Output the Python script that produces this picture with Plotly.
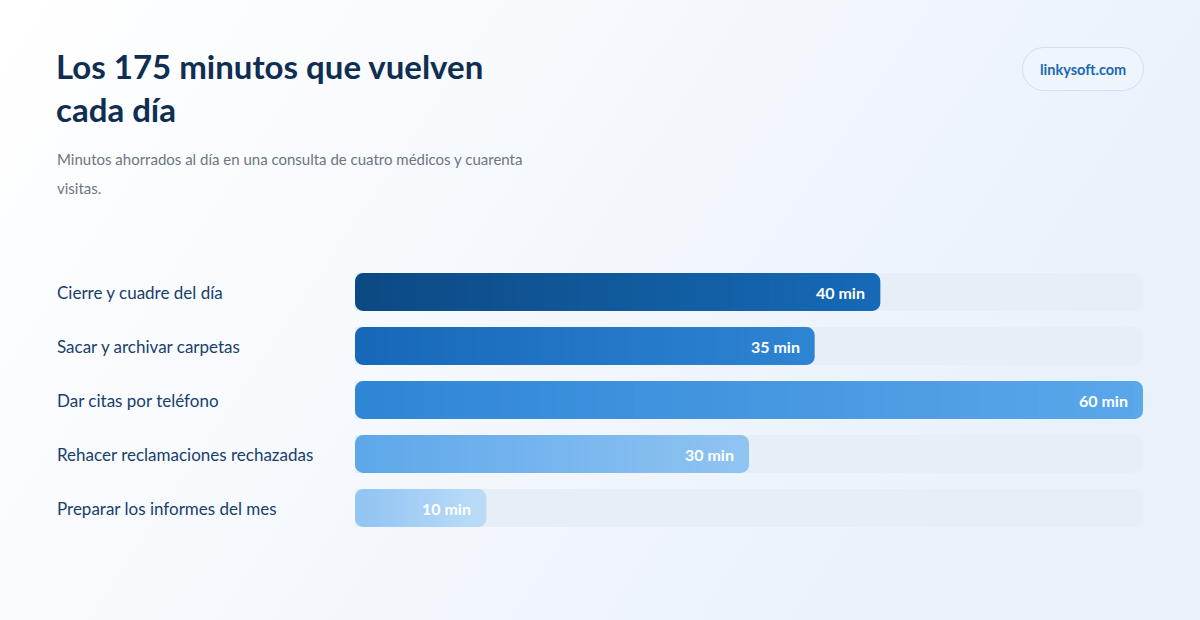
import base64
import plotly.graph_objects as go

# --- data
tasks = [
    "Cierre y cuadre del día",
    "Sacar y archivar carpetas",
    "Dar citas por teléfono",
    "Rehacer reclamaciones rechazadas",
    "Preparar los informes del mes",
]
minutes = [40, 35, 60, 30, 10]
value_labels = ["40 min", "35 min", "60 min", "30 min", "10 min"]
max_minutes = 60

# gradient colours per bar (left -> right)
grad_start = ["#0c4a83", "#1768b8", "#2f86d6", "#5ea8ea", "#93c5f3"]
grad_end = ["#1669b6", "#2d84d2", "#5aa7ea", "#8fc3f2", "#b9dbf8"]

FONT = "Lato"
W, H = 1200, 620
L, R, T, B = 355, 57, 265, 85
PW, PH = W - L - R, H - T - B


def xp(px):
    return (px - L) / PW


def yp(py):
    return (H - B - py) / PH


def hex2rgb(h):
    h = h.lstrip("#")
    return tuple(int(h[i:i + 2], 16) for i in (0, 2, 4))


def mix(c1, c2, t):
    a, b = hex2rgb(c1), hex2rgb(c2)
    return "rgb(%d,%d,%d)" % tuple(round(a[i] + (b[i] - a[i]) * t) for i in range(3))


fig = go.Figure()

# track
fig.add_trace(go.Bar(
    y=tasks, x=[max_minutes] * len(tasks), orientation="h",
    marker=dict(color="#e6eef8", cornerradius=8, line=dict(width=0)),
    hoverinfo="skip", showlegend=False,
))

# gradient bars: rounded end caps underneath, thin flat segments on top
cap = 0.8
nseg = 40
fig.add_trace(go.Bar(  # left rounded cap
    y=tasks, base=[3 * cap] * len(tasks), x=[-3 * cap] * len(tasks), orientation="h",
    marker=dict(color=grad_start, cornerradius=8, line=dict(width=0)),
    hoverinfo="skip", showlegend=False,
))
fig.add_trace(go.Bar(  # right rounded cap
    y=tasks, base=[v - 3 * cap for v in minutes], x=[3 * cap] * len(tasks), orientation="h",
    marker=dict(color=grad_end, cornerradius=8, line=dict(width=0)),
    hoverinfo="skip", showlegend=False,
))
for k in range(nseg):
    t = (k + 0.5) / nseg
    widths = [(v - 2 * cap) / nseg for v in minutes]
    fig.add_trace(go.Bar(
        y=tasks,
        base=[cap + k * w for w in widths],
        x=[w * 2 if k < nseg - 1 else w for w in widths],
        orientation="h",
        marker=dict(color=[mix(s, e, t) for s, e in zip(grad_start, grad_end)],
                    cornerradius=0, line=dict(width=0)),
        hoverinfo="skip", showlegend=False,
    ))

annotations = []
for name, v, lab in zip(tasks, minutes, value_labels):
    annotations.append(dict(
        x=xp(55), xref="paper", y=name, yref="y", text=name, showarrow=False,
        xanchor="left", yanchor="middle",
        font=dict(family=FONT, size=17, color="#173f6d"),
    ))
    annotations.append(dict(
        x=v, xref="x", y=name, yref="y", text="<b>%s</b>" % lab, showarrow=False,
        xanchor="right", yanchor="middle", xshift=-13,
        font=dict(family=FONT, size=16, color="#ffffff"),
    ))

for txt, cy in [("Los 175 minutos que vuelven", 66), ("cada día", 109)]:
    annotations.append(dict(
        x=xp(54), xref="paper", y=yp(cy), yref="paper", text="<b>%s</b>" % txt,
        showarrow=False, xanchor="left", yanchor="middle",
        font=dict(family=FONT, size=33, color="#0f2e51"),
    ))
for txt, cy in [("Minutos ahorrados al día en una consulta de cuatro médicos y cuarenta", 159),
                ("visitas.", 188)]:
    annotations.append(dict(
        x=xp(55), xref="paper", y=yp(cy), yref="paper", text=txt,
        showarrow=False, xanchor="left", yanchor="middle",
        font=dict(family=FONT, size=15, color="#6b7684"),
    ))
annotations.append(dict(
    x=xp(1083), xref="paper", y=yp(69), yref="paper", text="<b>linkysoft.com</b>",
    showarrow=False, xanchor="center", yanchor="middle",
    font=dict(family=FONT, size=14.5, color="#1b67b6"),
))

# background gradient + badge pill as an svg image
svg = f"""<svg xmlns='http://www.w3.org/2000/svg' width='{W}' height='{H}' viewBox='0 0 {W} {H}' preserveAspectRatio='none'>
<defs><linearGradient id='g' x1='0' y1='0' x2='1' y2='0.35'>
<stop offset='0' stop-color='#ffffff'/><stop offset='0.45' stop-color='#f6f9fd'/><stop offset='1' stop-color='#e9f1fb'/>
</linearGradient></defs>
<rect width='{W}' height='{H}' fill='url(#g)'/>
<rect x='1022.5' y='47.5' width='121' height='43' rx='21.5' fill='#eef5fd' stroke='#cfe0f3' stroke-width='1'/>
</svg>"""
src = "data:image/svg+xml;base64," + base64.b64encode(svg.encode()).decode()

fig.update_layout(
    width=W, height=H,
    margin=dict(l=L, r=R, t=T, b=B),
    barmode="overlay", bargap=0.3,
    paper_bgcolor="#f5f8fc", plot_bgcolor="rgba(0,0,0,0)",
    xaxis=dict(range=[0, max_minutes], visible=False, fixedrange=True),
    yaxis=dict(categoryorder="array", categoryarray=tasks, autorange="reversed",
               visible=False, fixedrange=True),
    annotations=annotations,
    images=[dict(source=src, xref="paper", yref="paper", x=xp(0), y=yp(0),
                 sizex=W / PW, sizey=H / PH, sizing="stretch", layer="below",
                 xanchor="left", yanchor="top")],
    font=dict(family=FONT),
)

fig.write_html("out.html", config={"displayModeBar": False},
               post_script="document.body.style.margin='0';")
